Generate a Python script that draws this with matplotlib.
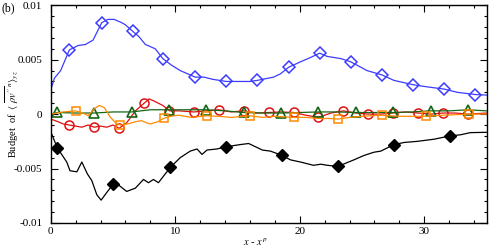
import numpy as np
import matplotlib
matplotlib.use('Agg')
import matplotlib.pyplot as plt
from matplotlib.ticker import MultipleLocator

plt.rcParams['font.family'] = ['Liberation Serif', 'DejaVu Serif']
plt.rcParams['mathtext.fontset'] = 'stix'

# budget terms vs x - x^p (lines)
blue_x = [0, 0.3, 0.8, 1.5, 2.2, 2.8, 3.4, 4.1, 4.6, 5.1, 5.7, 6.0, 6.6, 7.1, 7.6, 8.0, 8.4,
          9.0, 9.7, 10.4, 11.0, 11.6, 12.3, 13.0, 14.1, 15.0, 16.0, 16.6, 17.9, 18.45, 19.1,
          20.05, 20.86, 21.6, 22.2, 23.3, 24.1, 25.4, 26.6, 27.56, 29.1, 30.25, 31.6, 32.66,
          34.1, 35.0]
blue_y = [0.0022, 0.0033, 0.0040, 0.0059, 0.0063, 0.0064, 0.0068, 0.0084, 0.0087, 0.0087,
          0.0084, 0.0082, 0.0076, 0.0071, 0.0064, 0.0062, 0.0060, 0.0051, 0.0045, 0.0040,
          0.0037, 0.0034, 0.0034, 0.0032, 0.0030, 0.0030, 0.0030, 0.0031, 0.0034, 0.0037,
          0.0043, 0.0048, 0.0052, 0.0056, 0.0053, 0.0051, 0.0048, 0.0040, 0.0036, 0.0031,
          0.0027, 0.0025, 0.0023, 0.0020, 0.0018, 0.00175]

black_x = [0, 0.53, 1.29, 1.55, 2.1, 2.5, 2.95, 3.3, 3.7, 4.05, 4.5, 5.04, 5.44, 6.1, 6.8,
           7.45, 7.85, 8.25, 8.65, 9.6, 10.4, 11.2, 11.75, 12.15, 12.55, 13.35, 14.08, 15.2,
           15.9, 17.0, 17.65, 18.6, 19.25, 20.06, 21.1, 21.7, 22.2, 23.06, 24.35, 25.15,
           25.95, 26.5, 27.56, 28.4, 29.45, 30.8, 32.07, 32.9, 33.7, 35.0]
black_y = [-0.0016, -0.0031, -0.0044, -0.0052, -0.0053, -0.0044, -0.0055, -0.0061, -0.0074,
           -0.0079, -0.0072, -0.0064, -0.0065, -0.0071, -0.0068, -0.0060, -0.0063, -0.0060,
           -0.0063, -0.0049, -0.0040, -0.0034, -0.0032, -0.0037, -0.0033, -0.0032, -0.0030,
           -0.0028, -0.0027, -0.0033, -0.0034, -0.0038, -0.0042, -0.0044, -0.0047, -0.0046,
           -0.0047, -0.0048, -0.0042, -0.0038, -0.0035, -0.0034, -0.0028, -0.0026, -0.0025,
           -0.0023, -0.0020, -0.0019, -0.0017, -0.00167]

green_x = [0, 0.5, 2, 3.5, 5, 6.5, 8, 9.5, 11, 12.5, 14, 15.5, 17, 18.5, 20, 21.5, 23, 24.5,
           26, 27.5, 29, 30.5, 32, 33.5, 35]
green_y = [0.0, 0.00015, 0.0001, 0.0001, 0.0002, 0.0002, 0.0004, 0.0004, 0.0004, 0.0004,
           0.0003, 0.00015, 0.0001, 0.0001, 0.00015, 0.0002, 0.0002, 0.00015, 0.00015,
           0.00015, 0.0002, 0.0003, 0.0003, 0.0004, 0.0003]

red_x = [0, 0.6, 1.0, 1.5, 2.0, 2.5, 3.0, 3.5, 4.0, 4.5, 5.0, 5.5, 6.1, 6.8, 7.5, 7.9, 8.3,
         9.0, 9.55, 10.3, 11.5, 12.5, 13.5, 14.5, 15.5, 16.5, 17.5, 18.5, 19.5, 20.5, 21.5,
         22.5, 23.5, 24.5, 25.5, 26.5, 27.5, 28.5, 29.5, 30.5, 31.5, 32.5, 33.5, 35]
red_y = [-0.00045, -0.0007, -0.0009, -0.0010, -0.0011, -0.0012, -0.0010, -0.0012, -0.0011,
         -0.0012, -0.0010, -0.0013, -0.0008, 0.0003, 0.0010, 0.0014, 0.0012, 0.0008, 0.0003,
         0.0003, 0.0002, 0.0003, 0.0004, 0.0002, 0.0003, 0.0001, 0.00015, 0.0002, 0.00015,
         -0.0001, -0.0003, 0.0001, 0.0003, 0.0001, 0.0, 0.0, 0.0001, 0.0002, 0.0001, 0.0,
         0.0001, 0.0001, 0.0, 0.0001]

orange_x = [0, 1.0, 2.0, 2.6, 3.0, 3.5, 3.9, 4.3, 4.8, 5.3, 5.6, 6.2, 6.8, 7.3, 7.7, 8.0,
            8.6, 9.06, 9.6, 10.3, 11.3, 12.5, 13.5, 14.5, 16.0, 17.0, 18.0, 19.5, 20.5,
            21.5, 22.3, 23.1, 24.0, 25.0, 26.5, 28.0, 29.0, 30.1, 31.5, 33.6, 35]
orange_y = [0.0, 0.0002, 0.0003, 0.0001, -0.00015, 0.0005, 0.0008, 0.0006, -0.0003, -0.0009,
            -0.0010, -0.0009, -0.0007, -0.0006, -0.0008, -0.0009, -0.0007, -0.0004, -0.0002,
            -0.0001, -0.0003, -0.00015, -0.0002, -0.0003, -0.00015, -0.0003, -0.0002,
            -0.0003, -0.0003, -0.0004, -0.0004, -0.00045, -0.0003, -0.0002, -0.0001,
            -0.0002, -0.0002, -0.0002, -0.0001, 0.0, 0.0]

# symbols
blue_mx = [1.5, 4.1, 6.6, 9.0, 11.55, 14.08, 16.57, 19.1, 21.6, 24.08, 26.6, 29.1, 31.6, 34.1]
blue_my = [0.0059, 0.0084, 0.0076, 0.0051, 0.0034, 0.0030, 0.0031, 0.0043, 0.0056, 0.0048,
           0.0036, 0.0027, 0.0023, 0.0018]
black_mx = [0.53, 5.04, 9.6, 14.08, 18.6, 23.06, 27.56, 32.07]
black_my = [-0.0031, -0.0064, -0.0049, -0.0030, -0.0038, -0.0048, -0.0028, -0.0020]
red_mx = [1.5, 3.5, 5.5, 7.5, 9.5, 11.5, 13.5, 15.5, 17.5, 19.5, 21.5, 23.5, 25.5, 27.5,
          29.5, 31.5, 33.5]
red_my = [-0.0010, -0.0012, -0.0013, 0.0010, 0.0003, 0.0002, 0.0004, 0.0003, 0.00015,
          0.00015, -0.0003, 0.0003, 0.0, 0.0001, 0.0001, 0.0001, 0.0]
green_mx = [0.5, 3.5, 6.5, 9.5, 12.5, 15.5, 18.5, 21.5, 24.5, 27.5, 30.5, 33.5]
green_my = [0.00015, 0.0001, 0.0002, 0.0004, 0.0004, 0.00015, 0.0001, 0.0002, 0.00015,
            0.00015, 0.0003, 0.0004]
orange_mx = [2.0, 5.55, 9.06, 12.55, 16.03, 19.57, 23.1, 26.57, 30.1, 33.6]
orange_my = [0.0003, -0.0010, -0.0004, -0.00015, -0.00015, -0.0003, -0.00045, -0.0001,
             -0.0002, 0.0]

c_blue = '#3c3cff'
c_red = '#dd1111'
c_green = '#146614'
c_orange = '#ff8a00'

fig = plt.figure(figsize=(4.97, 2.5), dpi=100)
ax = fig.add_axes([0.102, 0.108, 0.877, 0.871])

ax.plot(black_x, black_y, c='k', lw=0.9)
ax.plot(black_mx, black_my, ls='none', marker='D', ms=6, mfc='k', mec='k')
ax.plot(blue_x, blue_y, c=c_blue, lw=0.9)
ax.plot(blue_mx, blue_my, ls='none', marker='D', ms=6.5, mfc='none', mec=c_blue, mew=1.1)
ax.plot(red_x, red_y, c=c_red, lw=0.9)
ax.plot(red_mx, red_my, ls='none', marker='o', ms=6.5, mfc='none', mec=c_red, mew=1.1)
ax.plot(green_x, green_y, c=c_green, lw=0.9)
ax.plot(green_mx, green_my, ls='none', marker='^', ms=7, mfc='none', mec=c_green, mew=1.2)
ax.plot(orange_x, orange_y, c=c_orange, lw=0.9)
ax.plot(orange_mx, orange_my, ls='none', marker='s', ms=6, mfc='none', mec=c_orange, mew=1.1)

ax.set_xlim(0, 35)
ax.set_ylim(-0.01, 0.01)
ax.set_xticks([0, 10, 20, 30])
ax.xaxis.set_minor_locator(MultipleLocator(2))
ax.set_yticks([-0.01, -0.005, 0, 0.005, 0.01])
ax.set_yticklabels(['-0.01', '-0.005', '0', '0.005', '0.01'])
ax.yaxis.set_minor_locator(MultipleLocator(0.001))
ax.tick_params(which='both', direction='in', top=True, right=True, labelsize=8, width=0.8)
ax.tick_params(which='major', length=5)
ax.tick_params(axis='y', which='major', pad=6)
ax.tick_params(axis='x', which='major', pad=3)
ax.tick_params(which='minor', length=2.5)
for sp in ax.spines.values():
    sp.set_linewidth(1.0)

ax.set_xlabel(r'$x$ - $x^{\,p}$', fontsize=7.5)
ax.xaxis.set_label_coords(0.47, -0.06)
ax.set_ylabel(r"Budget  of  $\langle\;\overline{\rho v^{\prime\prime}}^{\,n}\rangle_{yz}$",
              fontsize=7.5)
ax.yaxis.set_label_coords(-0.068, 0.5)
fig.text(0.004, 0.955, '(b)', fontsize=8.5)

fig.savefig('out.png', dpi=100)
